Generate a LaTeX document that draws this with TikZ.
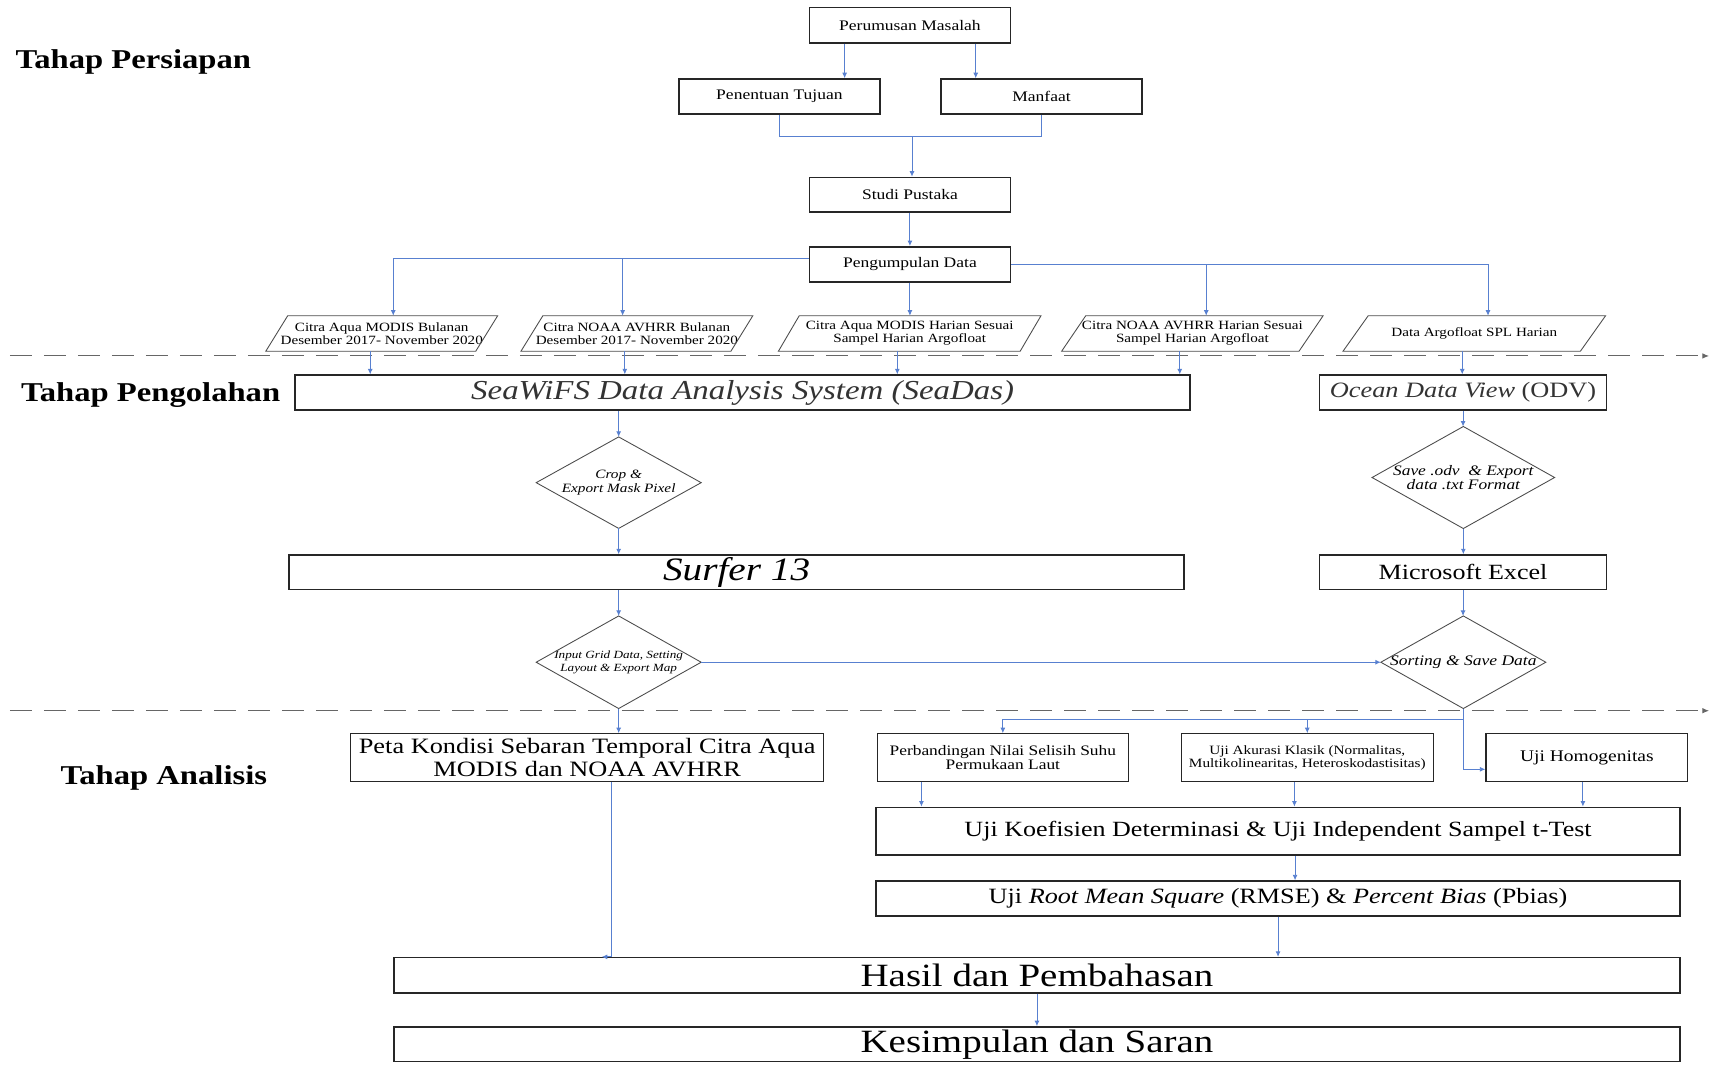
\documentclass[tikz,border=0pt]{standalone}
\usepackage{fontspec}
\setmainfont{Liberation Serif}[FakeStretch=1.2]
\usetikzlibrary{arrows.meta,calc}
\definecolor{conncol}{RGB}{88,128,208}
\definecolor{boxcol}{RGB}{38,38,38}
\newcommand\fsz[2]{\fontsize{#1pt}{#2pt}\selectfont}
\newcommand\mypgram[2]{\draw[shapeline] ([xshift=-#2]#1.south west) -- ([xshift=-#2]#1.south east) -- ([xshift=#2]#1.north east) -- ([xshift=#2]#1.north west) -- cycle;}
\newcommand\mydiam[1]{\draw[shapeline] (#1.north) -- (#1.east) -- (#1.south) -- (#1.west) -- cycle;}
\begin{document}
\begin{tikzpicture}[x=1pt,y=-1pt,
  box/.style={draw=boxcol, line width=1.4pt, rectangle, inner sep=0pt, align=center, text=black},
  txt/.style={rectangle, inner sep=0pt, align=center},
  conn/.style={draw=conncol, line width=0.8pt, -{Latex[length=5pt,width=4.5pt]}},
  plain/.style={draw=conncol, line width=0.8pt},
  shapeline/.style={draw=black!70, line width=0.8pt},
  sep/.style={draw=black!60, line width=0.9pt, dash pattern=on 20pt off 11pt, -{Latex[length=6pt,width=5pt]}},
  stage/.style={anchor=base west, inner sep=0pt, font=\fsz{24.8}{30}\bfseries}]
\useasboundingbox (0,0) rectangle (1568,978);

% stage labels
\node[stage] (st1) at (14,62) {Tahap Persiapan};
\node[stage] (st2) at (19,365.6) {Tahap Pengolahan};
\node[stage] (st3) at (55,715.6) {Tahap Analisis};

% separators
\coordinate (s1a) at (9,324.5); \coordinate (s1b) at (1558,324.5);
\coordinate (s2a) at (9,647.9); \coordinate (s2b) at (1558,647.9);
\draw[sep] (s1a) -- (s1b);
\draw[sep] (s2a) -- (s2b);

% top
\node[box, minimum width=183, minimum height=32] (perumusan) at (829.5,23) {\fsz{13.3}{16}Perumusan Masalah};
\node[box, minimum width=183, minimum height=32] (penentuan) at (710.5,88) {\fsz{13.3}{16}Penentuan Tujuan};
\node[box, minimum width=183, minimum height=32] (manfaat) at (949.5,88) {\fsz{13.3}{16}Manfaat};
\node[box, minimum width=183, minimum height=31.5] (studi) at (829.5,177.5) {\fsz{13.3}{16}Studi Pustaka};
\node[box, minimum width=183, minimum height=32] (pengumpulan) at (829.5,241) {\fsz{13.3}{16}Pengumpulan Data};

\draw[conn] ([xshift=-59.5pt]perumusan.south) -- ([xshift=-59.5pt]perumusan.south |- penentuan.north);
\draw[conn] ([xshift=60pt]perumusan.south) -- ([xshift=60pt]perumusan.south |- manfaat.north);
\coordinate (j1) at (831.4,124.6);
\draw[plain] (penentuan.south) |- (j1) -| (manfaat.south);
\draw[conn] (j1) -- (j1 |- studi.north);
\draw[conn] (studi.south) -- (pengumpulan.north);

% data parallelograms
\node[txt, minimum width=191, minimum height=32] (p1) at (348,304) {\fsz{11.5}{12.8}Citra Aqua MODIS Bulanan\\\fsz{11.5}{12.8}Desember 2017- November 2020};
\node[txt, minimum width=191, minimum height=32] (p2) at (580.6,304) {\fsz{11.5}{12.8}Citra NOAA AVHRR Bulanan\\\fsz{11.5}{12.8}Desember 2017- November 2020};
\node[txt, minimum width=220, minimum height=32] (p3) at (829.3,304) {\fsz{11.5}{12.8}Citra Aqua MODIS Harian Sesuai\\\fsz{11.5}{12.8}Sampel Harian Argofloat};
\node[txt, minimum width=216, minimum height=32] (p4) at (1087,304) {\fsz{11.5}{12.8}Citra NOAA AVHRR Harian Sesuai\\\fsz{11.5}{12.8}Sampel Harian Argofloat};
\node[txt, minimum width=216, minimum height=32] (p5) at (1344,304) {\fsz{11.5}{12.8}Data Argofloat SPL Harian};
\mypgram{p1}{10pt}
\mypgram{p2}{10pt}
\mypgram{p3}{9.5pt}
\mypgram{p4}{11pt}
\mypgram{p5}{11.5pt}

\draw[conn] ([yshift=5pt]pengumpulan.west) -| ([xshift=10.5pt]p1.north);
\coordinate (bl) at (567.6,236);
\draw[conn] (bl) -- (bl |- p2.north);
\draw[conn] (pengumpulan.south) -- (pengumpulan.south |- p3.north);
\draw[conn] (pengumpulan.east) -| ([xshift=12.5pt]p5.north);
\draw[conn] ([xshift=12.6pt]p4.north |- pengumpulan.east) -- ([xshift=12.6pt]p4.north);

% processing
\node[box, minimum width=816, minimum height=32] (seadas) at (677,358) {\fsz{25}{27}\color{black!80}\itshape SeaWiFS Data Analysis System (SeaDas)};
\node[box, minimum width=261.5, minimum height=32] (odv) at (1333.75,358) {\fsz{20}{24}\color{black!80}\textit{Ocean Data View} (ODV)};

\draw[conn] ([xshift=-10.5pt]p1.south) -- ([xshift=-10.5pt]p1.south |- seadas.north);
\draw[conn] ([xshift=-11pt]p2.south) -- ([xshift=-11pt]p2.south |- seadas.north);
\draw[conn] ([xshift=-11.3pt]p3.south) -- ([xshift=-11.3pt]p3.south |- seadas.north);
\draw[conn] ([xshift=-11.5pt]p4.south) -- ([xshift=-11.5pt]p4.south |- seadas.north);
\draw[conn] ([xshift=-11pt]p5.south) -- ([xshift=-11pt]p5.south |- odv.north);

\node[txt, minimum width=150, minimum height=83] (d1) at (564,440) {\fsz{11.6}{12.2}\itshape Crop \&\\\fsz{11.6}{12.2}\itshape Export Mask Pixel};
\mydiam{d1}
\node[box, minimum width=816, minimum height=31.3] (surfer) at (671.5,521.6) {\fsz{29.8}{32}\itshape Surfer 13};
\node[txt, minimum width=150, minimum height=84] (d2) at (564,603.7) {\fsz{10}{11.7}\itshape Input Grid Data, Setting\\\fsz{10}{11.7}\itshape Layout \& Export Map};
\mydiam{d2}

\node[txt, minimum width=166, minimum height=92.6] (d3) at (1334,435.3) {\fsz{13.2}{14}\itshape Save .odv \ \& Export\\\fsz{13.2}{14}\itshape data .txt Format};
\mydiam{d3}
\node[box, minimum width=261.5, minimum height=31.3] (excel) at (1333.75,521.6) {\fsz{19.8}{22}Microsoft Excel};
\node[txt, minimum width=150, minimum height=84] (d4) at (1334,603.7) {\fsz{13.3}{15}\itshape Sorting \& Save Data};
\mydiam{d4}

\draw[conn] (d1.north |- seadas.south) -- (d1.north);
\draw[conn] (d1.south) -- (d1.south |- surfer.north);
\draw[conn] (d2.north |- surfer.south) -- (d2.north);
\draw[conn] (odv.south) -- (odv.south |- d3.north);
\draw[conn] (d3.south) -- (d3.south |- excel.north);
\draw[conn] (excel.south) -- (excel.south |- d4.north);
\draw[conn] (d2.east) -- (d4.west);

% analysis
\node[box, line width=1.1pt, minimum width=431.5, minimum height=43.3] (peta) at (535.25,690.6) {\fsz{20}{22.5}Peta Kondisi Sebaran Temporal Citra Aqua\\[2.5pt]\fsz{20}{22.5}MODIS dan NOAA AVHRR};
\node[box, line width=1.1pt, minimum width=228.4, minimum height=43.3] (perbandingan) at (914.2,690.6) {\fsz{13.2}{14}Perbandingan Nilai Selisih Suhu\\\fsz{13.2}{14}Permukaan Laut};
\node[box, line width=1.1pt, minimum width=229.5, minimum height=43.3] (akurasi) at (1191.75,690.6) {\fsz{11.6}{13}Uji Akurasi Klasik (Normalitas,\\\fsz{11.6}{13}Multikolinearitas, Heteroskodastisitas)};
\node[box, line width=1.1pt, minimum width=184, minimum height=43.3] (homogen) at (1446.6,690.6) {\fsz{14.8}{17}Uji Homogenitas};
\node[box, minimum width=733, minimum height=43.5] (koef) at (1165.1,757.75) {\fsz{19.8}{22}Uji Koefisien Determinasi \& Uji Independent Sampel t-Test};
\node[box, minimum width=733, minimum height=31.8] (rmse) at (1165.1,819.1) {\fsz{19.9}{22}Uji \textit{Root Mean Square} (RMSE) \& \textit{Percent Bias} (Pbias)};
\node[box, minimum width=1172.6, minimum height=32] (hasil) at (945.3,889) {\fsz{29.6}{32}Hasil dan Pembahasan};
\node[box, minimum width=1172.6, minimum height=31.6] (kesimpulan) at (945.3,952) {\fsz{29.6}{32}Kesimpulan dan Saran};

\draw[conn] (d2.south) -- (d2.south |- peta.north);
\draw[conn] ([xshift=22.4pt]peta.south) |- ([xshift=13.4pt]peta.south |- hasil.north);
\coordinate (j2) at (1334,655.5);
\draw[plain] (d4.south) -- (j2);
\draw[conn] (j2) -| (perbandingan.north);
\draw[conn] (akurasi.north |- j2) -- (akurasi.north);
\draw[conn] (j2) |- ([yshift=-10.7pt]homogen.west);
\draw[conn] ([xshift=-74.2pt]perbandingan.south) -- ([xshift=-74.2pt]perbandingan.south |- koef.north);
\draw[conn] ([xshift=-11.75pt]akurasi.south) -- ([xshift=-11.75pt]akurasi.south |- koef.north);
\draw[conn] ([xshift=-3.6pt]homogen.south) -- ([xshift=-3.6pt]homogen.south |- koef.north);
\draw[conn] ([xshift=15.5pt]koef.south) -- ([xshift=15.5pt]koef.south |- rmse.north);
\draw[conn] (rmse.south) -- (rmse.south |- hasil.north);
\draw[conn] (hasil.south) -- (kesimpulan.north);
\end{tikzpicture}
\end{document}
